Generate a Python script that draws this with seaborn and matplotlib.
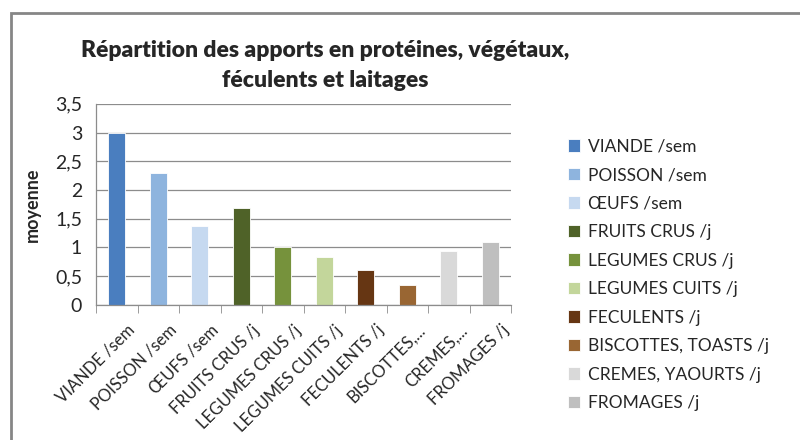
import matplotlib
matplotlib.use("Agg")
import matplotlib.pyplot as plt
import matplotlib.transforms as mtransforms
import seaborn as sns
import pandas as pd
import numpy as np
from matplotlib.patches import Rectangle

# data
categories = ["VIANDE /sem", "POISSON /sem", "ŒUFS /sem", "FRUITS CRUS /j",
              "LEGUMES CRUS /j", "LEGUMES CUITS /j", "FECULENTS /j",
              "BISCOTTES, TOASTS /j", "CREMES, YAOURTS /j", "FROMAGES /j"]
tick_labels = ["VIANDE /sem", "POISSON /sem", "ŒUFS /sem", "FRUITS CRUS /j",
               "LEGUMES CRUS /j", "LEGUMES CUITS /j", "FECULENTS /j",
               "BISCOTTES,...", "CREMES,...", "FROMAGES /j"]
values = [3.0, 2.30, 1.38, 1.68, 1.01, 0.84, 0.61, 0.34, 0.94, 1.09]
colors = ["#4A7EBF", "#8EB4DE", "#C6D9F0", "#4F6228", "#76923C",
          "#C3D69B", "#663613", "#996633", "#D9D9D9", "#BFBFBF"]
yticks = [0, 0.5, 1, 1.5, 2, 2.5, 3, 3.5]
ytick_labels = ["0", "0,5", "1", "1,5", "2", "2,5", "3", "3,5"]

df = pd.DataFrame({"cat": categories, "val": values})

sns.set_style("white")
plt.rcParams["font.family"] = ["Lato", "DejaVu Sans"]

fig = plt.figure(figsize=(8, 4.4), dpi=100)
ax = fig.add_axes([0.12, 0.307, 0.519, 0.457])

sns.barplot(data=df, x="cat", y="val", hue="cat", palette=colors, saturation=1,
            width=0.41, dodge=False, legend=True, ax=ax,
            edgecolor="white", linewidth=0.6)

ax.set_ylim(0, 3.5)
ax.set_xlim(-0.5, 9.5)
ax.set_yticks(yticks)
ax.set_yticklabels(ytick_labels, fontsize=14)
ax.yaxis.grid(True, color="#8C8C8C", linewidth=0.9)
ax.set_axisbelow(True)
ax.tick_params(axis="y", length=5, color="#8C8C8C", pad=5)

ax.set_xticks(range(len(tick_labels)))
ax.set_xticklabels(tick_labels, rotation=45, ha="right", rotation_mode="anchor", fontsize=12)
ax.set_xticks(np.arange(-0.5, 10, 1), minor=True)
ax.tick_params(axis="x", which="major", length=0, pad=10)
ax.tick_params(axis="x", which="minor", length=6, color="#8C8C8C", bottom=True)
shift = mtransforms.ScaledTranslation(10 / 100, -3 / 100, fig.dpi_scale_trans)
for lbl in ax.get_xticklabels():
    lbl.set_transform(lbl.get_transform() + shift)

for s in ["top", "right"]:
    ax.spines[s].set_visible(False)
for s in ["left", "bottom"]:
    ax.spines[s].set_color("#8C8C8C")
    ax.spines[s].set_linewidth(0.9)

ax.set_xlabel("")
ax.set_ylabel("moyenne", fontsize=13, fontweight="bold", labelpad=10)

fig.suptitle("Répartition des apports en protéines, végétaux,\nféculents et laitages",
             x=0.406, y=0.91, fontsize=16.5, fontweight="heavy", linespacing=1.55)

sns.move_legend(ax, "upper left", bbox_to_anchor=(1.098, 0.905), frameon=False,
                title=None, fontsize=12.5, handlelength=0.7, handleheight=0.7,
                handletextpad=0.5, labelspacing=0.72)

# chart area border
fig.patches.append(Rectangle((11 / 800, -0.1), 1.0, 1 - 13 / 440 + 0.1,
                             transform=fig.transFigure, fill=False,
                             edgecolor="#868686", linewidth=2))

fig.savefig("out.png", dpi=100)
